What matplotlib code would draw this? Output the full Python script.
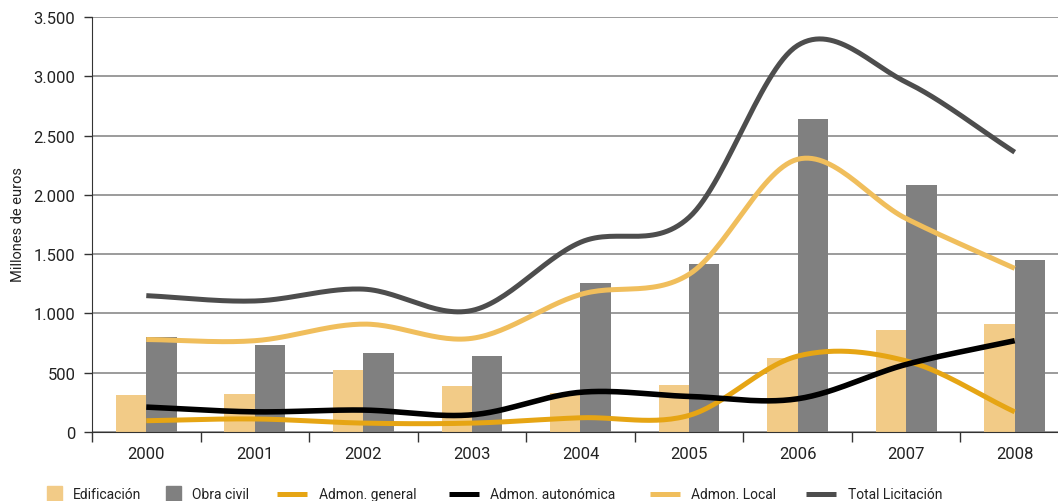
import numpy as np
import matplotlib
matplotlib.use("Agg")
import matplotlib.pyplot as plt
from matplotlib.patches import Rectangle
from matplotlib.lines import Line2D

plt.rcParams['font.family'] = ['Roboto', 'DejaVu Sans']

years = ['2000', '2001', '2002', '2003', '2004', '2005', '2006', '2007', '2008']
edificacion = [310, 320, 520, 390, 330, 400, 620, 860, 910]
obra_civil = [800, 730, 670, 640, 1260, 1420, 2640, 2080, 1450]
admon_general = [95, 110, 75, 75, 120, 140, 640, 600, 170]
admon_autonomica = [210, 170, 185, 145, 335, 300, 280, 570, 770]
admon_local = [780, 770, 910, 790, 1160, 1330, 2300, 1800, 1380]
total_licitacion = [1150, 1105, 1205, 1025, 1600, 1810, 3260, 2950, 2360]
yticks = [0, 500, 1000, 1500, 2000, 2500, 3000, 3500]
ytick_labels = ['0', '500', '1.000', '1.500', '2.000', '2.500', '3.000', '3.500']

c_edif = '#F2CB87'
c_obra = '#808080'
c_gen = '#E6A514'
c_aut = '#000000'
c_loc = '#F0BE5C'
c_tot = '#4D4D4D'


def smooth(y, n=30):
    """Catmull-Rom curve through the points (Excel-style smoothed line)."""
    y = np.asarray(y, float)
    x = np.arange(len(y), dtype=float)
    px = np.concatenate([[x[0]], x, [x[-1]]])
    py = np.concatenate([[y[0]], y, [y[-1]]])
    xs, ys = [], []
    for i in range(1, len(px) - 2):
        p0, p1, p2, p3 = py[i - 1], py[i], py[i + 1], py[i + 2]
        x1, x2 = px[i], px[i + 1]
        t = np.linspace(0, 1, n, endpoint=(i == len(px) - 3))
        m1y = (p2 - p0) / 2 if i > 1 else (p2 - p1)
        m2y = (p3 - p1) / 2 if i < len(px) - 3 else (p2 - p1)
        h00 = 2 * t**3 - 3 * t**2 + 1
        h10 = t**3 - 2 * t**2 + t
        h01 = -2 * t**3 + 3 * t**2
        h11 = t**3 - t**2
        xs.append(x1 + (x2 - x1) * t)
        ys.append(h00 * p1 + h10 * m1y + h01 * p2 + h11 * m2y)
    return np.concatenate(xs), np.concatenate(ys)


W, H = 1058, 502
fig = plt.figure(figsize=(W / 100, H / 100), dpi=100)
ax = fig.add_axes([92 / W, (H - 433) / H, (1069 - 92) / W, (433 - 18) / H])

x = np.arange(len(years))
bw = 0.28
ax.bar(x - bw / 2, edificacion, width=bw, color=c_edif, zorder=2)
ax.bar(x + bw / 2, obra_civil, width=bw, color=c_obra, zorder=2)

for vals, col, lw in [(admon_general, c_gen, 3.6), (admon_autonomica, c_aut, 4.0),
                      (admon_local, c_loc, 3.6), (total_licitacion, c_tot, 3.6)]:
    sx, sy = smooth(vals)
    ax.plot(sx, sy, color=col, lw=lw, zorder=3, solid_capstyle='butt')

ax.set_xlim(-0.5, len(years) - 0.5)
ax.set_ylim(0, 3500)
ax.set_yticks(yticks)
ax.set_yticklabels(ytick_labels)
ax.set_xticks(x)
ax.set_xticklabels(years)
ax.set_xticks(np.arange(len(years) + 1) - 0.5, minor=True)
ax.tick_params(axis='x', which='major', length=0, pad=10, labelsize=12)
ax.tick_params(axis='x', which='minor', length=7, width=1, color='#333333', direction='out')
ax.tick_params(axis='y', length=6, width=1, color='#333333', labelsize=12, pad=6)
for lab in ax.get_xticklabels() + ax.get_yticklabels():
    lab.set_color('#222222')

ax.grid(axis='y', color='#8a8a8a', lw=1.2, zorder=0)
ax.set_axisbelow(True)
for s in ['top', 'right']:
    ax.spines[s].set_visible(False)
ax.spines['left'].set_color('#333333')
ax.spines['bottom'].set_color('#333333')

fig.text(18 / W, 1 - 225 / H, 'Millones de euros', rotation=90, ha='center', va='center',
         fontsize=10.5, color='#222222')

# legend
ly = 1 - 495 / H
items = [('patch', c_edif, 47, 'Edificación', 73),
         ('patch', c_obra, 166, 'Obra civil', 192),
         ('line', c_gen, 277, 'Admon. general', 319),
         ('line', c_aut, 449, 'Admon. autonómica', 490),
         ('line', c_loc, 650, 'Admon. Local', 691),
         ('line', c_tot, 806, 'Total Licitación', 848)]
for kind, col, x0, label, tx in items:
    if kind == 'patch':
        fig.patches.append(Rectangle((x0 / W, 0), 15 / W, (H - 487) / H,
                                     transform=fig.transFigure, color=col))
    else:
        fig.lines.append(Line2D([x0 / W, (x0 + 30) / W], [ly, ly], transform=fig.transFigure,
                                color=col, lw=3.6, solid_capstyle='butt'))
    fig.text(tx / W, ly, label, ha='left', va='center', fontsize=10, color='#222222')

fig.savefig('out.png', dpi=100)
